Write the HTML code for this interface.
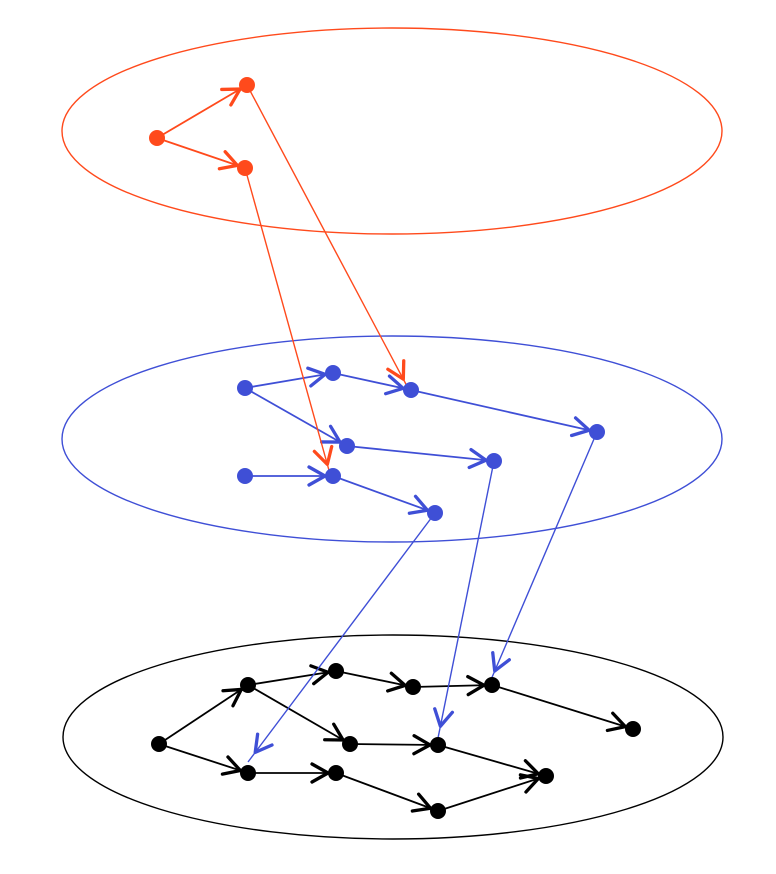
<!DOCTYPE html>
<html><head><meta charset="utf-8"><style>html,body{margin:0;padding:0;background:#fff}svg{display:block}</style></head>
<body>
<svg width="776" height="874" viewBox="0 0 776 874" xmlns="http://www.w3.org/2000/svg">
<defs>
<marker id="mb" markerUnits="userSpaceOnUse" markerWidth="40" markerHeight="40" refX="8" refY="0" viewBox="-20 -20 40 40" orient="auto" overflow="visible"><path d="M-16,-9 L0,0 L-16,9" fill="none" stroke="#000" stroke-width="3.3" stroke-linecap="round" stroke-linejoin="round"/></marker>
<marker id="mbl" markerUnits="userSpaceOnUse" markerWidth="40" markerHeight="40" refX="8" refY="0" viewBox="-20 -20 40 40" orient="auto" overflow="visible"><path d="M-16,-9 L0,0 L-16,9" fill="none" stroke="#3f4fd6" stroke-width="3.3" stroke-linecap="round" stroke-linejoin="round"/></marker>
<marker id="mbl2" markerUnits="userSpaceOnUse" markerWidth="40" markerHeight="40" refX="12" refY="0" viewBox="-20 -20 40 40" orient="auto" overflow="visible"><path d="M-16,-9 L0,0 L-16,9" fill="none" stroke="#3f4fd6" stroke-width="3.3" stroke-linecap="round" stroke-linejoin="round"/></marker>
<marker id="mr" markerUnits="userSpaceOnUse" markerWidth="40" markerHeight="40" refX="8" refY="0" viewBox="-20 -20 40 40" orient="auto" overflow="visible"><path d="M-16,-9 L0,0 L-16,9" fill="none" stroke="#ff4a1c" stroke-width="3.3" stroke-linecap="round" stroke-linejoin="round"/></marker>
<marker id="mr2" markerUnits="userSpaceOnUse" markerWidth="40" markerHeight="40" refX="10" refY="0" viewBox="-20 -20 40 40" orient="auto" overflow="visible"><path d="M-16,-9 L0,0 L-16,9" fill="none" stroke="#ff4a1c" stroke-width="3.3" stroke-linecap="round" stroke-linejoin="round"/></marker>
</defs>
<ellipse cx="392" cy="131" rx="330" ry="103" fill="none" stroke="#ff4a1c" stroke-width="1.4"/>
<ellipse cx="392" cy="439" rx="330" ry="103" fill="none" stroke="#3f4fd6" stroke-width="1.4"/>
<ellipse cx="393" cy="737" rx="330" ry="102" fill="none" stroke="#000" stroke-width="1.4"/>

<g stroke="#000" stroke-width="1.8" marker-end="url(#mb)">
<line x1="159" y1="744" x2="248" y2="685"/>
<line x1="159" y1="744" x2="248" y2="773"/>
<line x1="248" y1="685" x2="336" y2="671"/>
<line x1="336" y1="671" x2="413" y2="687"/>
<line x1="413" y1="687" x2="492" y2="685"/>
<line x1="492" y1="685" x2="633" y2="729"/>
<line x1="248" y1="685" x2="350" y2="744"/>
<line x1="350" y1="744" x2="438" y2="745"/>
<line x1="438" y1="745" x2="546" y2="776"/>
<line x1="248" y1="773" x2="336" y2="773"/>
<line x1="336" y1="773" x2="438" y2="811"/>
<line x1="438" y1="811" x2="546" y2="776"/>
</g>
<g stroke="#3f4fd6" stroke-width="1.8" marker-end="url(#mbl)">
<line x1="245" y1="388" x2="333" y2="373"/>
<line x1="333" y1="373" x2="411" y2="390"/>
<line x1="411" y1="390" x2="597" y2="432"/>
<line x1="245" y1="388" x2="347" y2="446"/>
<line x1="347" y1="446" x2="494" y2="461"/>
<line x1="245" y1="476" x2="333" y2="476"/>
<line x1="333" y1="476" x2="435" y2="513"/>
</g>
<g stroke="#3f4fd6" stroke-width="1.4" marker-end="url(#mbl2)">
<line x1="435" y1="513" x2="248" y2="762"/>
<line x1="494" y1="461" x2="438" y2="738"/>
<line x1="597" y1="432" x2="490" y2="682"/>
</g>
<g stroke="#ff4a1c" stroke-width="1.8" marker-end="url(#mr)">
<line x1="157" y1="138" x2="247" y2="85"/>
<line x1="157" y1="138" x2="245" y2="168"/>
</g>
<g stroke="#ff4a1c" stroke-width="1.4" marker-end="url(#mr2)">
<line x1="247" y1="85" x2="408" y2="388"/>
<line x1="245" y1="168" x2="330" y2="474"/>
</g>

<g fill="#000">
<circle cx="159" cy="744" r="8"/><circle cx="248" cy="685" r="8"/><circle cx="336" cy="671" r="8"/>
<circle cx="413" cy="687" r="8"/><circle cx="492" cy="685" r="8"/><circle cx="633" cy="729" r="8"/>
<circle cx="350" cy="744" r="8"/><circle cx="438" cy="745" r="8"/><circle cx="248" cy="773" r="8"/>
<circle cx="336" cy="773" r="8"/><circle cx="438" cy="811" r="8"/><circle cx="546" cy="776" r="8"/>
</g>
<g fill="#3f4fd6">
<circle cx="245" cy="388" r="8"/><circle cx="333" cy="373" r="8"/><circle cx="411" cy="390" r="8"/>
<circle cx="597" cy="432" r="8"/><circle cx="347" cy="446" r="8"/><circle cx="494" cy="461" r="8"/>
<circle cx="245" cy="476" r="8"/><circle cx="333" cy="476" r="8"/><circle cx="435" cy="513" r="8"/>
</g>
<g fill="#ff4a1c">
<circle cx="157" cy="138" r="8"/><circle cx="247" cy="85" r="8"/><circle cx="245" cy="168" r="8"/>
</g>
</svg>
</body></html>
